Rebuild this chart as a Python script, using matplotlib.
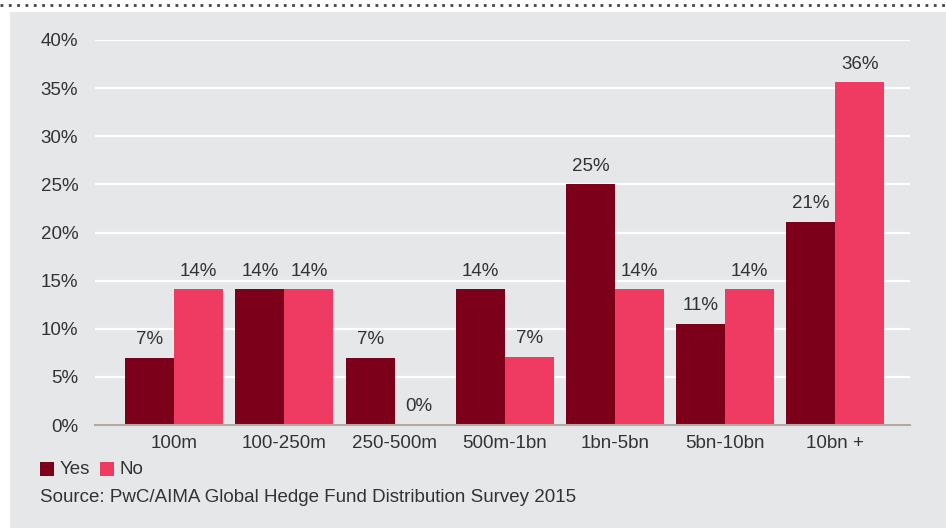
import numpy as np
import matplotlib.pyplot as plt
from matplotlib.patches import Rectangle
from matplotlib.lines import Line2D

categories = ["100m", "100-250m", "250-500m", "500m-1bn", "1bn-5bn", "5bn-10bn", "10bn +"]
yesValues = [7.0, 14.1, 7.0, 14.1, 25.0, 10.5, 21.1]
noValues = [14.1, 14.1, 0.0, 7.1, 14.1, 14.1, 35.6]
yesLabels = ["7%", "14%", "7%", "14%", "25%", "11%", "21%"]
noLabels = ["14%", "14%", "0%", "7%", "14%", "14%", "36%"]
yTicks = [0, 5, 10, 15, 20, 25, 30, 35, 40]

yesColor = "#7c0019"
noColor = "#ef3b62"
panelColor = "#e6e7e8"
textColor = "#333333"
fontSize = 13.5

plt.rcParams['font.family'] = ['Liberation Sans', 'DejaVu Sans']

fig = plt.figure(figsize=(9.46, 5.28), dpi=100)
fig.patch.set_facecolor("white")

# Gray panel behind everything
fig.patches.append(Rectangle((10 / 946, 0), 1 - 10 / 946, 1 - 12 / 528,
                             transform=fig.transFigure, facecolor=panelColor,
                             edgecolor="none", zorder=-10))
# Dotted rule along the top
fig.lines.append(Line2D([0, 1], [1 - 5 / 528, 1 - 5 / 528], transform=fig.transFigure,
                        color="#444444", linestyle=(0, (1, 2)), linewidth=2, zorder=-5))

ax = fig.add_axes([95 / 946, 1 - 425 / 528, (910 - 95) / 946, (425 - 40) / 528])
ax.set_facecolor("none")

xPositions = np.arange(len(categories))
barWidth = 0.445

ax.bar(xPositions - barWidth / 2, yesValues, barWidth, color=yesColor, zorder=3, label="Yes")
ax.bar(xPositions + barWidth / 2, noValues, barWidth, color=noColor, zorder=3, label="No")

# Value labels above bars
for x, v, s in zip(xPositions, yesValues, yesLabels):
    ax.text(x - barWidth / 2, v + 1.0, s, ha="center", va="bottom", fontsize=fontSize, color=textColor)
for x, v, s in zip(xPositions, noValues, noLabels):
    ax.text(x + barWidth / 2, v + 1.0, s, ha="center", va="bottom", fontsize=fontSize, color=textColor)

ax.set_xlim(-0.72, 6.68)
ax.set_ylim(0, 40)
ax.set_yticks(yTicks)
ax.set_yticklabels([f"{t}%" for t in yTicks])
ax.set_xticks(xPositions)
ax.set_xticklabels(categories)
ax.tick_params(axis="both", length=0, labelsize=fontSize, colors=textColor)
ax.tick_params(axis="y", pad=12)
ax.tick_params(axis="x", pad=7)

ax.yaxis.grid(True, color="white", linewidth=1.6, zorder=1)
ax.set_axisbelow(True)
for side in ["top", "right", "left"]:
    ax.spines[side].set_visible(False)
ax.spines["bottom"].set_color("#b3aaa3")
ax.spines["bottom"].set_linewidth(1.5)
ax.spines["bottom"].set_zorder(4)

# Legend drawn manually
fig.patches.append(Rectangle((40 / 946, 1 - 476 / 528), 14 / 946, 14 / 528,
                             transform=fig.transFigure, facecolor=yesColor, edgecolor="none"))
fig.text(60 / 946, 1 - 469 / 528, "Yes", fontsize=fontSize, color=textColor, va="center")
fig.patches.append(Rectangle((100 / 946, 1 - 476 / 528), 14 / 946, 14 / 528,
                             transform=fig.transFigure, facecolor=noColor, edgecolor="none"))
fig.text(119 / 946, 1 - 469 / 528, "No", fontsize=fontSize, color=textColor, va="center")

fig.text(40 / 946, 1 - 497 / 528, "Source: PwC/AIMA Global Hedge Fund Distribution Survey 2015",
         fontsize=fontSize, color=textColor, va="center")

fig.savefig("out.png", dpi=100)
